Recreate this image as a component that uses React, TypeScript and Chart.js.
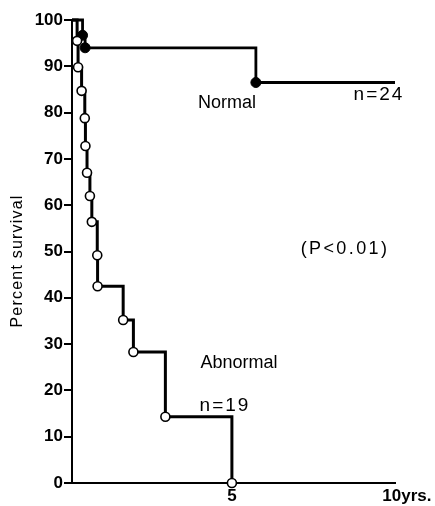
import React, { useEffect, useRef } from "react";
import { Chart, registerables } from "chart.js";

Chart.register(...registerables);

// Kaplan–Meier survival data (years, percent survival)
const normalYears = [0, 0.33, 0.41, 5.75, 10.1];
const normalSurvival = [100, 96.7, 94.0, 86.5, 86.5];

const abnormalYears = [0, 0.16, 0.19, 0.3, 0.4, 0.42, 0.47, 0.56, 0.62, 0.79, 0.8, 1.6, 1.92, 2.92, 5.0];
const abnormalSurvival = [100, 95.5, 89.8, 84.7, 78.8, 72.8, 67.0, 62.0, 56.4, 49.2, 42.5, 35.2, 28.3, 14.3, 0];

const yTickValues = [0, 10, 20, 30, 40, 50, 60, 70, 80, 90, 100];
const xTickValues = [5, 10];
const xTickLabels = ["5", "10yrs."];

const FONT = "'Liberation Sans', Arial, sans-serif";

export default function App() {
  const canvasRef = useRef<HTMLCanvasElement | null>(null);

  useEffect(() => {
    const canvas = canvasRef.current;
    if (!canvas) return;

    const textPlugin = {
      id: "textPlugin",
      afterDraw(chart: any) {
        const ctx = chart.ctx as CanvasRenderingContext2D;
        const xs = chart.scales.x;
        ctx.save();
        ctx.fillStyle = "#000";
        ctx.textBaseline = "middle";

        // x tick labels (number centered on tick)
        ctx.font = `bold 17px ${FONT}`;
        xTickValues.forEach((v, i) => {
          const px = xs.getPixelForValue(v);
          const label = xTickLabels[i];
          const w = ctx.measureText(String(v)).width;
          ctx.textAlign = "left";
          (ctx as any).letterSpacing = "0px";
          ctx.fillText(label, px - w / 2, 496);
        });

        // y axis title
        ctx.save();
        ctx.translate(18, 261);
        ctx.rotate(-Math.PI / 2);
        ctx.font = `16px ${FONT}`;
        (ctx as any).letterSpacing = "1.2px";
        ctx.textAlign = "center";
        ctx.fillText("Percent survival", 0, 0);
        ctx.restore();

        const put = (t: string, x: number, y: number, font: string, sp: number) => {
          ctx.font = font;
          (ctx as any).letterSpacing = `${sp}px`;
          ctx.textAlign = "center";
          ctx.fillText(t, x, y);
        };
        put("Normal", 227, 103, `18px ${FONT}`, 0);
        put("n=24", 379, 95, `19px ${FONT}`, 2);
        put("(P<0.01)", 345, 249, `18px ${FONT}`, 2.4);
        put("Abnormal", 239, 363, `18px ${FONT}`, 0);
        put("n=19", 225, 406, `19px ${FONT}`, 2);
        ctx.restore();
      },
    };

    const chart = new Chart(canvas, {
      type: "line",
      data: {
        datasets: [
          {
            label: "Abnormal",
            data: abnormalYears.map((x, i) => ({ x, y: abnormalSurvival[i] })),
            stepped: "before",
            borderColor: "#000",
            borderWidth: 3,
            pointRadius: abnormalYears.map((_, i) => (i === 0 ? 0 : 4.5)),
            pointBackgroundColor: "#fff",
            pointBorderColor: "#000",
            pointBorderWidth: 1.6,
            clip: false as any,
            order: 0,
          },
          {
            label: "Normal",
            data: normalYears.map((x, i) => ({ x, y: normalSurvival[i] })),
            stepped: "before",
            borderColor: "#000",
            borderWidth: 2.8,
            pointRadius: normalYears.map((_, i) => (i === 0 || i === normalYears.length - 1 ? 0 : 5)),
            pointBackgroundColor: "#000",
            pointBorderColor: "#000",
            pointBorderWidth: 1,
            clip: false as any,
            order: 1,
          },
        ],
      },
      options: {
        responsive: false,
        animation: false,
        layout: { padding: { top: 20, right: 40, left: 0, bottom: 0 } },
        plugins: {
          legend: { display: false },
          tooltip: { enabled: false },
          title: { display: false },
        },
        scales: {
          x: {
            type: "linear",
            min: 0,
            max: 10.1,
            grid: { display: false },
            border: { display: true, color: "#000", width: 2 },
            ticks: { display: false },
            afterFit: (s: any) => {
              s.height = 23;
            },
          },
          y: {
            type: "linear",
            min: 0,
            max: 100,
            afterBuildTicks: (s: any) => {
              s.ticks = yTickValues.map((v) => ({ value: v }));
            },
            grid: {
              drawOnChartArea: false,
              drawTicks: true,
              tickLength: 8,
              color: "#000",
              lineWidth: 2,
            },
            border: { display: true, color: "#000", width: 2 },
            ticks: {
              color: "#000",
              padding: 1,
              font: { family: FONT, size: 17, weight: "bold" },
            },
            afterFit: (s: any) => {
              s.width = 72;
            },
          },
        },
      },
      plugins: [textPlugin],
    });

    return () => chart.destroy();
  }, []);

  return (
    <div style={{ position: "absolute", left: 0, top: 0, width: 435, height: 506, background: "#fff" }}>
      <canvas ref={canvasRef} width={435} height={506} style={{ display: "block" }} />
    </div>
  );
}
